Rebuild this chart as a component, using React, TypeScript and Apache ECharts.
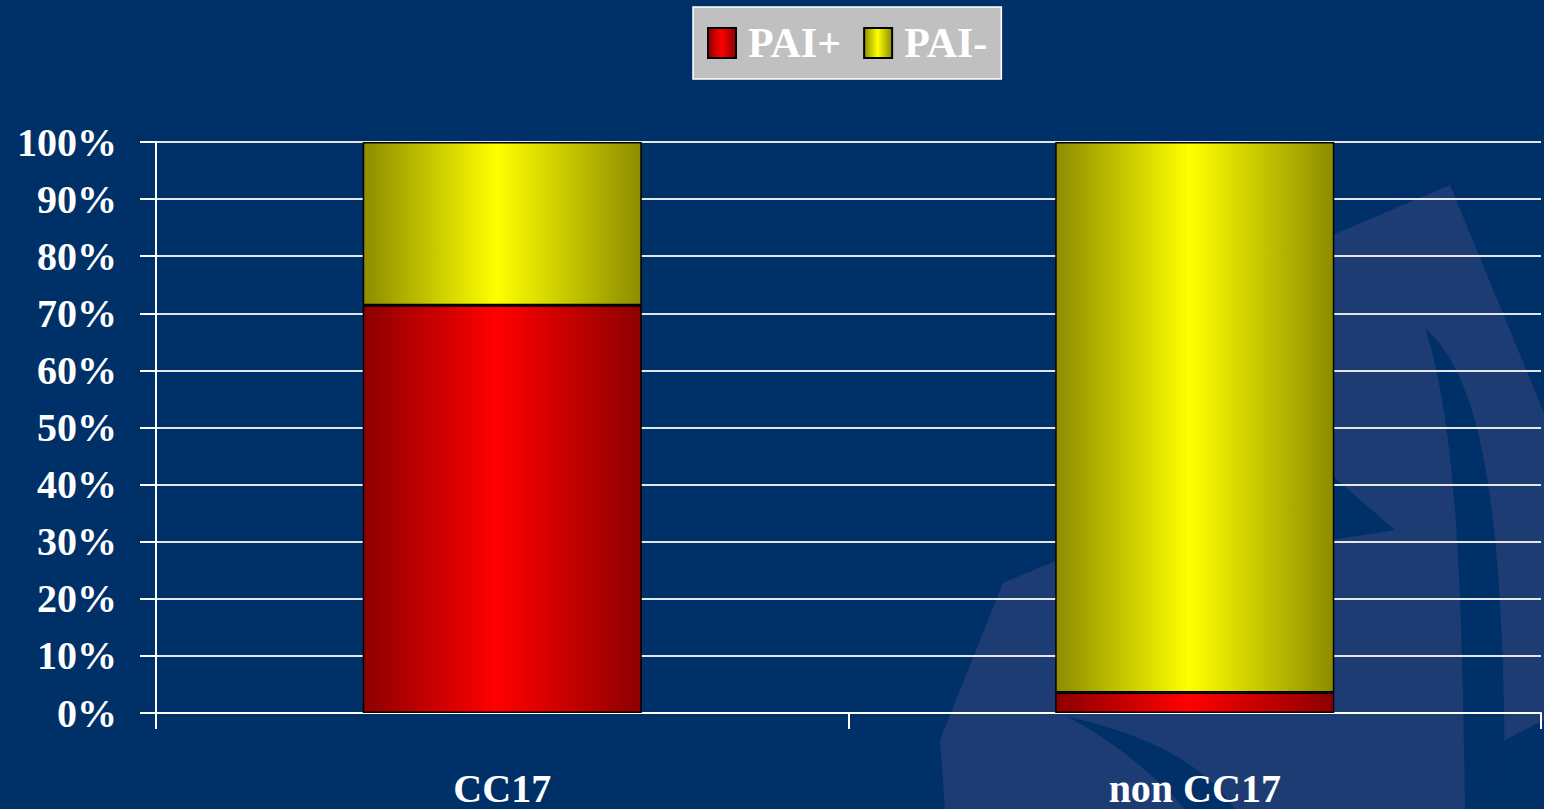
import React, { useEffect, useRef } from "react";
import * as echarts from "echarts";

const categories = ["CC17", "non CC17"];
const seriesNames = ["PAI+", "PAI-"];
const paiPlus = [71.4, 3.6];
const paiMinus = [28.6, 96.4];
const yTicks = { min: 0, max: 100, interval: 10 };

const BG = "#003068";
const WM = "#1e3c74";

const FONT = "'Liberation Serif', 'Times New Roman', serif";

function grad(edge: string, mid: string) {
  return new echarts.graphic.LinearGradient(0, 0, 1, 0, [
    { offset: 0, color: edge },
    { offset: 0.48, color: mid },
    { offset: 1, color: edge },
  ]);
}

let registered = false;
function registerShapes() {
  if (registered) return;
  registered = true;
  echarts.graphic.registerShape(
    "wmLight",
    echarts.graphic.extendPath(
      "M1003,583 L1058,560 L1058,245 L1335,234 L1450,185 L1544,413 L1544,809 L945,809 L940,740 Z",
      {}
    ) as any
  );
  echarts.graphic.registerShape(
    "wmDark1",
    echarts.graphic.extendPath(
      "M1425,328 C1485,380 1505,520 1505,809 L1465,809 C1462,600 1458,430 1425,328 Z",
      {}
    ) as any
  );
  echarts.graphic.registerShape(
    "wmDark2",
    echarts.graphic.extendPath("M1300,470 L1335,478 L1395,530 L1300,545 Z", {}) as any
  );
  echarts.graphic.registerShape(
    "wmDark3",
    echarts.graphic.extendPath(
      "M1068,717 C1150,735 1205,765 1235,809 L1185,809 C1150,770 1110,740 1068,717 Z",
      {}
    ) as any
  );
  echarts.graphic.registerShape(
    "wmDark4",
    echarts.graphic.extendPath("M1505,740 L1544,720 L1544,809 L1480,809 Z", {}) as any
  );
}

export default function App() {
  const ref = useRef<HTMLDivElement>(null);
  useEffect(() => {
    if (!ref.current) return;
    registerShapes();
    const chart = echarts.init(ref.current, null, { renderer: "svg" });
    const red = grad("#8c0000", "#ff0000");
    const yellow = grad("#8c8c00", "#ffff00");
    chart.setOption({
      animation: false,
      backgroundColor: BG,
      graphic: [
        { type: "wmLight", z: -10, silent: true, style: { fill: WM } },
        { type: "wmDark1", z: -9, silent: true, style: { fill: BG } },
        { type: "wmDark2", z: -9, silent: true, style: { fill: BG } },
        { type: "wmDark3", z: -9, silent: true, style: { fill: BG } },
        { type: "wmDark4", z: -9, silent: true, style: { fill: BG } },
      ],
      legend: {
        data: seriesNames,
        left: 693,
        top: 7,
        backgroundColor: "#c0c0c0",
        borderColor: "#ffffff",
        borderWidth: 1.5,
        borderRadius: 0,
        padding: [15, 14, 15, 14],
        itemWidth: 28,
        itemHeight: 30,
        itemGap: 22,
        icon: "rect",
        textStyle: {
          color: "#ffffff",
          fontSize: 42,
          fontWeight: "bold",
          fontFamily: FONT,
          padding: [0, 0, 0, 7],
        },
      },
      grid: { left: 156, right: 3, top: 142, bottom: 96, containLabel: false },
      xAxis: {
        type: "category",
        data: categories,
        axisLine: { show: true, lineStyle: { color: "#ffffff", width: 2 } },
        axisTick: { show: true, length: 16, lineStyle: { color: "#ffffff", width: 2 } },
        axisLabel: {
          color: "#ffffff",
          fontSize: 40,
          lineHeight: 36,
          fontWeight: "bold",
          fontFamily: FONT,
          margin: 57,
        },
        splitLine: { show: false },
      },
      yAxis: {
        type: "value",
        min: yTicks.min,
        max: yTicks.max,
        interval: yTicks.interval,
        axisLine: { show: true, lineStyle: { color: "#ffffff", width: 2 } },
        axisTick: { show: true, length: 16, lineStyle: { color: "#ffffff", width: 2 } },
        axisLabel: {
          color: "#ffffff",
          fontSize: 40,
          fontWeight: "bold",
          fontFamily: FONT,
          margin: 39,
          formatter: "{value}%",
        },
        splitLine: { show: true, lineStyle: { color: "#e6e6e6", width: 2 } },
      },
      series: [
        {
          name: seriesNames[0],
          type: "bar",
          stack: "total",
          data: paiPlus,
          barWidth: "40.3%",
          itemStyle: { color: red, borderColor: "#000000", borderWidth: 1.5 },
        },
        {
          name: seriesNames[1],
          type: "bar",
          stack: "total",
          data: paiMinus,
          barWidth: "40.3%",
          itemStyle: { color: yellow, borderColor: "#000000", borderWidth: 1.5 },
        },
      ],
    });
    return () => chart.dispose();
  }, []);
  return (
    <div
      ref={ref}
      style={{ position: "fixed", left: 0, top: 0, width: 1544, height: 809 }}
    />
  );
}
